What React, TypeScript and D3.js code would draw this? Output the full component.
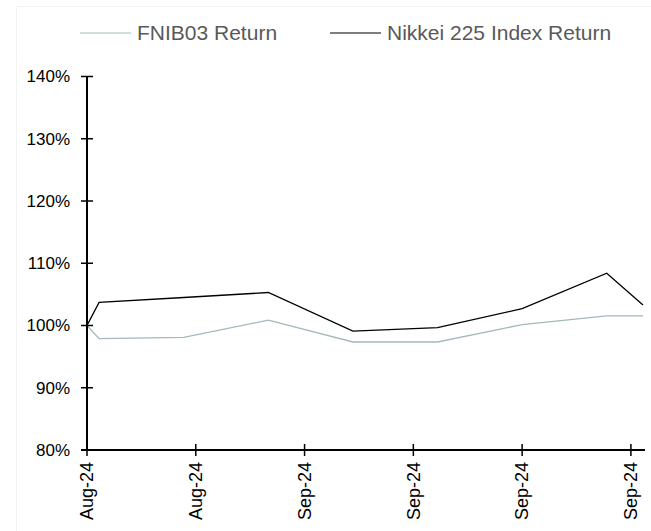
import React from "react";
import * as d3 from "d3";

const dates = ["2024-08-16", "2024-08-17", "2024-08-24", "2024-08-31", "2024-09-07", "2024-09-14", "2024-09-21", "2024-09-28", "2024-10-01"];
const fnib03 = [100, 97.9, 98.1, 100.85, 97.35, 97.35, 100.15, 101.55, 101.55];
const nikkei = [100, 103.7, 104.5, 105.3, 99.1, 99.65, 102.7, 108.4, 103.3];
const tickDates = ["2024-08-16", "2024-08-25", "2024-09-03", "2024-09-12", "2024-09-21", "2024-09-30"];
const yTicks = [80, 90, 100, 110, 120, 130, 140];
const seriesNames = ["FNIB03 Return", "Nikkei 225 Index Return"];
const seriesColors = ["#a3b9bd", "#000000"];

const parse = d3.utcParse("%Y-%m-%d");
const fmt = d3.utcFormat("%b-%y");

export default function App() {
  const W = 651, H = 531;
  const x = d3.scaleUtc().domain([parse("2024-08-16")!, parse("2024-10-01")!]).range([87, 643]);
  const y = d3.scaleLinear().domain([80, 140]).range([450, 76.5]);
  const series = [fnib03, nikkei];
  const line = d3.line<[Date, number]>().x(d => x(d[0])).y(d => y(d[1]));
  const font = "'Liberation Sans', Arial, sans-serif";
  return (
    <svg width={W} height={H} style={{ position: "absolute", left: 0, top: 0, background: "#fff", fontFamily: font }}>
      <rect x={16.5} y={6.5} width={W} height={H} fill="none" stroke="#f3f3f3" strokeWidth={1} />
      {seriesNames.map((n, i) => {
        const lx = [80, 330][i];
        return (
          <g key={n}>
            <line x1={lx} x2={lx + 51} y1={33} y2={33} stroke={seriesColors[i]} strokeWidth={1.2} />
            <text x={lx + 57} y={33} dy="0.35em" fontSize={21} fill="#595959">{n}</text>
          </g>
        );
      })}
      <defs>
        <clipPath id="plot"><rect x={87} y={60} width={557} height={400} /></clipPath>
      </defs>
      <g clipPath="url(#plot)">
        {series.map((s, i) => (
          <path key={i} d={line(dates.map((d, j) => [parse(d)!, s[j]]))!} fill="none" stroke={seriesColors[i]} strokeWidth={1.3} />
        ))}
      </g>
      <line x1={87} x2={87} y1={y(140)} y2={y(80)} stroke="#000" strokeWidth={2} />
      {yTicks.map(t => (
        <g key={t}>
          <line x1={81} x2={93} y1={y(t)} y2={y(t)} stroke="#000" strokeWidth={1.5} />
          <text x={70} y={y(t)} dy="0.35em" textAnchor="end" fontSize={17} fill="#000">{t}%</text>
        </g>
      ))}
      <line x1={81} x2={645} y1={y(80)} y2={y(80)} stroke="#000" strokeWidth={2} />
      {tickDates.map(t => {
        const xx = x(parse(t)!);
        return (
          <g key={t}>
            <line x1={xx} x2={xx} y1={y(80) - 6} y2={y(80) + 6} stroke="#000" strokeWidth={1.5} />
            <text transform={`translate(${xx},${y(80) + 12}) rotate(-90)`} dy="0.35em" textAnchor="end" fontSize={18} fill="#000">{fmt(parse(t)!)}</text>
          </g>
        );
      })}
    </svg>
  );
}
